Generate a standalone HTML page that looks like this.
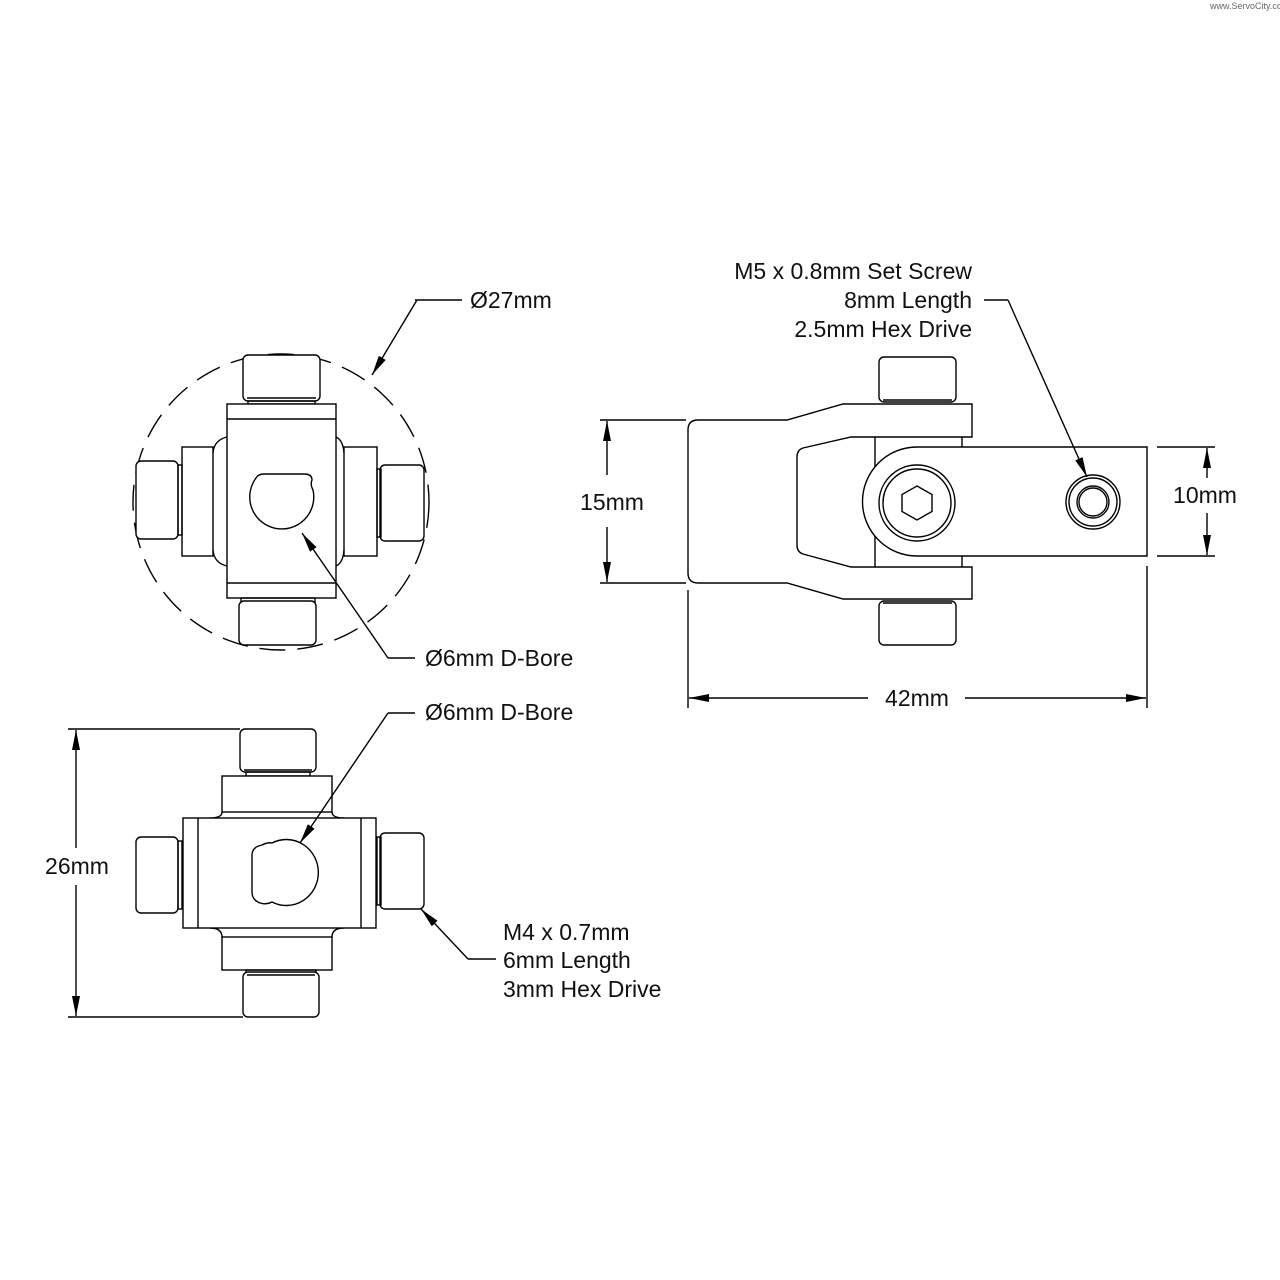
<!DOCTYPE html>
<html><head><meta charset="utf-8"><style>
html,body{margin:0;padding:0;background:#fff;}
svg{display:block;}
text{font-family:"Liberation Sans",sans-serif;font-size:23px;fill:#111;}
</style></head><body>
<svg width="1280" height="1280" viewBox="0 0 1280 1280" xmlns="http://www.w3.org/2000/svg">
<defs>
<marker id="ar" viewBox="0 0 20 8" refX="20" refY="4" markerWidth="20" markerHeight="8" markerUnits="userSpaceOnUse" orient="auto">
<path d="M0,0 L20,4 L0,8 Z" fill="#000"/></marker>
</defs>
<text x="1210" y="9" style="font-size:9px;fill:#666">www.ServoCity.com</text>
<g fill="none" stroke="#000" stroke-width="1.4">
<!-- TOP LEFT VIEW -->
<circle cx="281" cy="502" r="148" stroke-dasharray="26,12"/>
<rect x="243" y="355" width="77" height="46" rx="5" fill="#fff"/>
<line x1="247" y1="398" x2="316" y2="398"/>
<rect x="248" y="401" width="67" height="3"/>
<rect x="182" y="447" width="31" height="109" fill="#fff"/>
<rect x="344" y="447" width="33" height="109" fill="#fff"/>
<path d="M227,437 Q214,440 213,453 M213,550 Q214,563 227,566"/>
<path d="M336,437 Q343,440 344,453 M344,550 Q343,563 336,566"/>
<rect x="136" y="461" width="42" height="78" rx="5" fill="#fff"/>
<rect x="178" y="465" width="4" height="70"/>
<rect x="380" y="465" width="44" height="76" rx="5" fill="#fff"/>
<rect x="377" y="469" width="4" height="68"/>
<rect x="227" y="404" width="109" height="194" fill="#fff"/>
<line x1="227" y1="419" x2="336" y2="419"/>
<line x1="227" y1="583" x2="336" y2="583"/>
<rect x="241" y="598" width="74" height="4"/>
<rect x="239" y="601" width="77" height="44" rx="5" fill="#fff"/>
<path d="M256,478 Q258,474 264,474 L304,474 Q312,474 312,480 Q310,484 313,490 A32,32 0 1 1 256,478 Z"/>
<polyline points="415,300 462,300"/>
<line x1="417" y1="300" x2="372" y2="375" marker-end="url(#ar)"/>
<polyline points="415,658 388,658"/>
<line x1="388" y1="658" x2="302" y2="533" marker-end="url(#ar)"/>

<!-- RIGHT VIEW -->
<rect x="879" y="357" width="77" height="45" rx="5" fill="#fff"/>
<line x1="883" y1="400" x2="952" y2="400"/>
<rect x="879" y="601" width="77" height="44" rx="5" fill="#fff"/>
<line x1="883" y1="603" x2="952" y2="603"/>
<path d="M698,420 L787,420 L843,404 L972,404 L972,437 L851,437 L803,448 Q797,450 797,457 L797,545 Q797,552 803,554 L851,567 L972,567 L972,599 L843,599 L787,583 L698,583 Q688,583 688,573 L688,430 Q688,420 698,420 Z" fill="#fff"/>
<line x1="875" y1="437" x2="875" y2="567"/>
<line x1="962" y1="437" x2="962" y2="447"/>
<line x1="962" y1="556" x2="962" y2="567"/>
<path d="M917,447 L1147,447 L1147,556 L917,556 A54.5,54.5 0 0 1 917,447 Z" fill="#fff"/>
<circle cx="917" cy="503" r="38"/>
<circle cx="917" cy="503" r="34"/>
<polygon points="917,486 932,494.5 932,511.5 917,520 902,511.5 902,494.5"/>
<circle cx="1093" cy="502" r="27"/>
<circle cx="1093" cy="502" r="24"/>
<circle cx="1093" cy="502" r="16"/>
<circle cx="1093" cy="502" r="14"/>
<line x1="600" y1="420" x2="686" y2="420"/>
<line x1="600" y1="583" x2="686" y2="583"/>
<line x1="607" y1="475" x2="607" y2="421" marker-end="url(#ar)"/>
<line x1="607" y1="527" x2="607" y2="582" marker-end="url(#ar)"/>
<line x1="1157" y1="447" x2="1215" y2="447"/>
<line x1="1157" y1="556" x2="1215" y2="556"/>
<line x1="1207" y1="478" x2="1207" y2="448" marker-end="url(#ar)"/>
<line x1="1207" y1="513" x2="1207" y2="555" marker-end="url(#ar)"/>
<line x1="688" y1="590" x2="688" y2="708"/>
<line x1="1147" y1="566" x2="1147" y2="708"/>
<line x1="868" y1="698" x2="689" y2="698" marker-end="url(#ar)"/>
<line x1="965" y1="698" x2="1146" y2="698" marker-end="url(#ar)"/>
<polyline points="984,300 1008,300"/>
<line x1="1008" y1="300" x2="1087" y2="477" marker-end="url(#ar)"/>

<!-- BOTTOM LEFT VIEW -->
<rect x="240" y="729" width="76" height="43" rx="5" fill="#fff"/>
<line x1="244" y1="770" x2="312" y2="770"/>
<rect x="246" y="772" width="64" height="4"/>
<rect x="222" y="776" width="110" height="36" fill="#fff"/>
<rect x="222" y="937" width="110" height="33" fill="#fff"/>
<path d="M222,812 Q222,818 210,818 M332,812 Q332,818 344,818"/>
<path d="M222,937 Q222,928 210,928 M332,937 Q332,928 344,928"/>
<rect x="246" y="970" width="70" height="3"/>
<rect x="243" y="972" width="76" height="45" rx="5" fill="#fff"/>
<line x1="247" y1="975" x2="315" y2="975"/>
<rect x="136" y="837" width="42" height="76" rx="5" fill="#fff"/>
<rect x="178" y="841" width="4" height="68"/>
<rect x="380" y="833" width="44" height="76" rx="5" fill="#fff"/>
<rect x="377" y="837" width="4" height="68"/>
<rect x="183" y="818" width="193" height="110" fill="#fff"/>
<line x1="198" y1="818" x2="198" y2="928"/>
<line x1="361" y1="818" x2="361" y2="928"/>
<path d="M262,845 Q268,842 272,843 A32,33 0 1 1 272,902 Q266,905 260,903 Q252,900 252,892 L252,855 Q252,847 262,845 Z"/>
<line x1="68" y1="729" x2="240" y2="729"/>
<line x1="68" y1="1017" x2="243" y2="1017"/>
<line x1="76" y1="848" x2="76" y2="730" marker-end="url(#ar)"/>
<line x1="76" y1="885" x2="76" y2="1016" marker-end="url(#ar)"/>
<polyline points="415,713 388,713"/>
<line x1="388" y1="713" x2="300" y2="843" marker-end="url(#ar)"/>
<polyline points="496,959 468,959"/>
<line x1="468" y1="959" x2="421" y2="909" marker-end="url(#ar)"/>
</g>
<text x="470" y="308">Ø27mm</text>
<text x="425" y="666">Ø6mm D-Bore</text>
<text x="425" y="720">Ø6mm D-Bore</text>
<text x="612" y="510" text-anchor="middle">15mm</text>
<text x="1205" y="503" text-anchor="middle">10mm</text>
<text x="917" y="706" text-anchor="middle">42mm</text>
<text x="77" y="874" text-anchor="middle">26mm</text>
<g text-anchor="end">
<text x="972" y="279">M5 x 0.8mm Set Screw</text>
<text x="972" y="308">8mm Length</text>
<text x="972" y="337">2.5mm Hex Drive</text>
</g>
<text x="503" y="940">M4 x 0.7mm</text>
<text x="503" y="968">6mm Length</text>
<text x="503" y="997">3mm Hex Drive</text>
</svg>
</body></html>
